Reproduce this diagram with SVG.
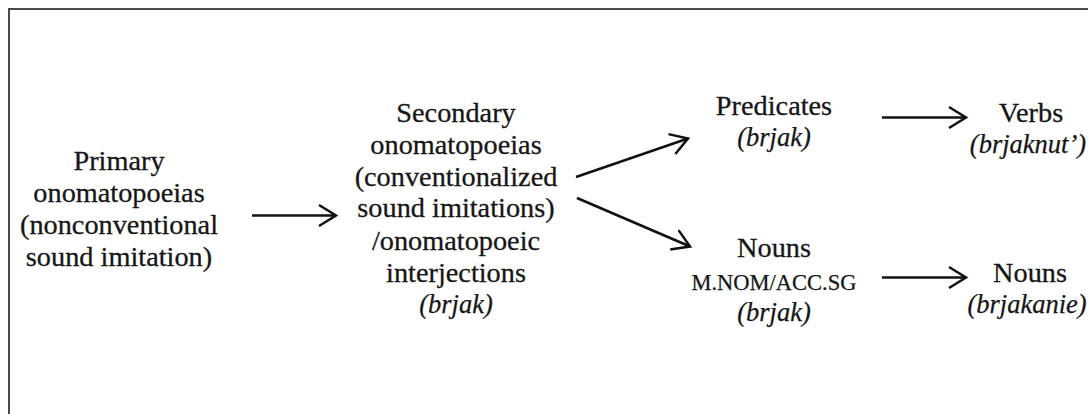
<svg xmlns="http://www.w3.org/2000/svg" width="1088" height="414" viewBox="0 0 1088 414">
  <style>
    .t { font-family: 'Liberation Serif', 'Times New Roman', serif; font-size: 28.3px; fill: #161616; stroke: #161616; stroke-width: 0.3; text-anchor: middle; }
    .i { font-family: 'Liberation Serif', 'Times New Roman', serif; font-style: italic; font-size: 26.5px; fill: #161616; stroke: #161616; stroke-width: 0.25; text-anchor: middle; }
    .sc { font-family: 'Liberation Serif', 'Times New Roman', serif; font-size: 22.5px; fill: #161616; stroke: #161616; stroke-width: 0.25; text-anchor: middle; }
    .edge { stroke: #111; stroke-width: 2.5; fill: none; }
  </style>
  <defs>
    <marker id="head" markerUnits="userSpaceOnUse" viewBox="-20 -13 24 26" markerWidth="24" markerHeight="26" refX="0" refY="0" orient="auto">
      <path d="M-17,-10.5 L0,0 L-17,10.5" fill="none" stroke="#111" stroke-width="2.5" stroke-linejoin="miter"/>
    </marker>
  </defs>
  <rect width="1088" height="414" fill="#fff"/>

  <!-- frame (top and left edges) -->
  <path d="M9,414 V9 H1088" fill="none" stroke="#4a4a4a" stroke-width="2"/>

  <g id="primary">
    <text class="t" x="119" y="170">Primary</text>
    <text class="t" x="119" y="202">onomatopoeias</text>
    <text class="t" x="119" y="234">(nonconventional</text>
    <text class="t" x="119" y="266">sound imitation)</text>
  </g>

  <g id="secondary">
    <text class="t" x="456" y="122">Secondary</text>
    <text class="t" x="456" y="154">onomatopoeias</text>
    <text class="t" x="456" y="186">(conventionalized</text>
    <text class="t" x="456" y="217">sound imitations)</text>
    <text class="t" x="456" y="250">/onomatopoeic</text>
    <text class="t" x="456" y="282">interjections</text>
    <text class="i" x="456" y="313">(brjak)</text>
  </g>

  <g id="predicates">
    <text class="t" x="774" y="115">Predicates</text>
    <text class="i" x="774" y="146">(brjak)</text>
  </g>

  <g id="nouns-base">
    <text class="t" x="774" y="257">Nouns</text>
    <text class="sc" x="774" y="290">M.NOM/ACC.SG</text>
    <text class="i" x="774" y="321">(brjak)</text>
  </g>

  <g id="verbs">
    <text class="t" x="1031" y="122">Verbs</text>
    <text class="i" x="1028" y="153">(brjaknut’)</text>
  </g>

  <g id="nouns-derived">
    <text class="t" x="1030" y="282">Nouns</text>
    <text class="i" x="1027" y="313">(brjakanie)</text>
  </g>

  <g id="connectors">
    <line class="edge" x1="252" y1="215.5" x2="336" y2="215.5" marker-end="url(#head)"/>
    <line class="edge" x1="576" y1="177" x2="688" y2="138.5" marker-end="url(#head)"/>
    <line class="edge" x1="577" y1="198" x2="690" y2="246.5" marker-end="url(#head)"/>
    <line class="edge" x1="882" y1="117.5" x2="966" y2="117.5" marker-end="url(#head)"/>
    <line class="edge" x1="882" y1="277.5" x2="966" y2="277.5" marker-end="url(#head)"/>
  </g>
</svg>
